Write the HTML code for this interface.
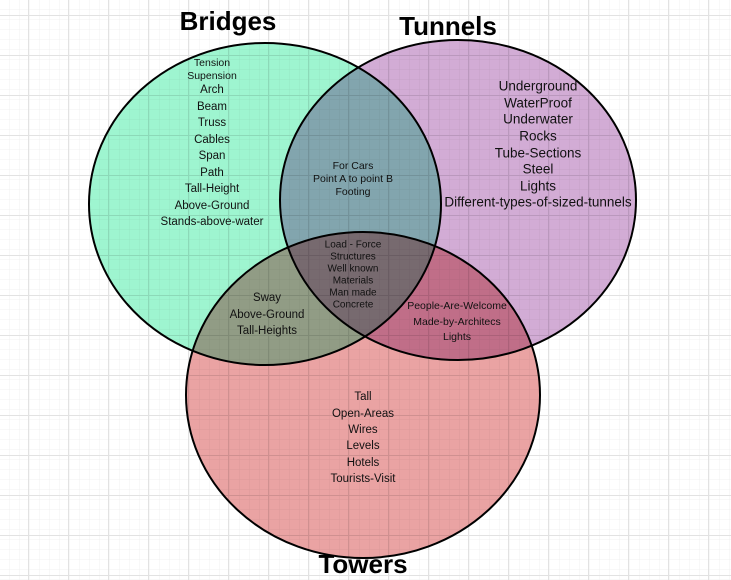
<!DOCTYPE html>
<html><head><meta charset="utf-8"><style>
html,body{margin:0;padding:0;background:#fff}
svg{display:block}
text{font-family:"Liberation Sans",sans-serif;fill:#111;text-anchor:middle;dominant-baseline:middle}
.t{font-size:11.5px}
.s{font-size:10.5px}
.u{font-size:13.5px}
.h{font-size:26px;font-weight:bold;fill:#000}
.c{mix-blend-mode:multiply}
</style></head><body>
<svg width="731" height="580" viewBox="0 0 731 580">
<defs>
<pattern id="g1" width="10" height="10" patternUnits="userSpaceOnUse"><path d="M10 0V10H0" fill="none" stroke="#f0f0f0" stroke-width="1"/></pattern>
<pattern id="g2" x="28" y="15" width="40" height="40" patternUnits="userSpaceOnUse"><path d="M0.5 0V40M0 0.5H40" fill="none" stroke="#e2e2e2" stroke-width="1"/></pattern>
</defs>
<rect width="731" height="580" fill="url(#g1)"/>
<rect width="731" height="580" fill="url(#g2)"/>
<g>
<ellipse class="c" cx="265" cy="204" rx="176" ry="161" fill="#9ef5d0" stroke="#000" stroke-width="2"/>
<ellipse class="c" cx="458" cy="200" rx="178" ry="160" fill="#d2acd5" stroke="#000" stroke-width="2"/>
<ellipse class="c" cx="363" cy="395" rx="177" ry="163" fill="#eaa3a3" stroke="#000" stroke-width="2"/>
</g>
<text class="h" x="228" y="23">Bridges</text>
<text class="h" x="448" y="28">Tunnels</text>
<text class="h" x="363" y="566">Towers</text>
<g class="t">
<text class="s" x="212" y="63">Tension</text>
<text class="s" x="212" y="76">Supension</text>
<text x="212" y="90">Arch</text>
<text x="212" y="107">Beam</text>
<text x="212" y="123">Truss</text>
<text x="212" y="140">Cables</text>
<text x="212" y="156">Span</text>
<text x="212" y="173">Path</text>
<text x="212" y="189">Tall-Height</text>
<text x="212" y="206">Above-Ground</text>
<text x="212" y="222">Stands-above-water</text>
</g>
<g class="s">
<text x="353" y="166">For Cars</text>
<text x="353" y="179">Point A to point B</text>
<text x="353" y="192">Footing</text>
</g>
<g class="u">
<text x="538" y="87">Underground</text>
<text x="538" y="104">WaterProof</text>
<text x="538" y="120">Underwater</text>
<text x="538" y="137">Rocks</text>
<text x="538" y="154">Tube-Sections</text>
<text x="538" y="170">Steel</text>
<text x="538" y="187">Lights</text>
<text x="538" y="203">Different-types-of-sized-tunnels</text>
</g>
<g class="s" style="font-size:10px">
<text x="353" y="245">Load - Force</text>
<text x="353" y="257">Structures</text>
<text x="353" y="269">Well known</text>
<text x="353" y="281">Materials</text>
<text x="353" y="293">Man made</text>
<text x="353" y="305">Concrete</text>
</g>
<g class="t">
<text x="267" y="298">Sway</text>
<text x="267" y="315">Above-Ground</text>
<text x="267" y="331">Tall-Heights</text>
</g>
<g class="s">
<text x="457" y="306">People-Are-Welcome</text>
<text x="457" y="322">Made-by-Architecs</text>
<text x="457" y="337">Lights</text>
</g>
<g class="t">
<text x="363" y="397">Tall</text>
<text x="363" y="414">Open-Areas</text>
<text x="363" y="430">Wires</text>
<text x="363" y="446">Levels</text>
<text x="363" y="463">Hotels</text>
<text x="363" y="479">Tourists-Visit</text>
</g>
</svg>
</body></html>
